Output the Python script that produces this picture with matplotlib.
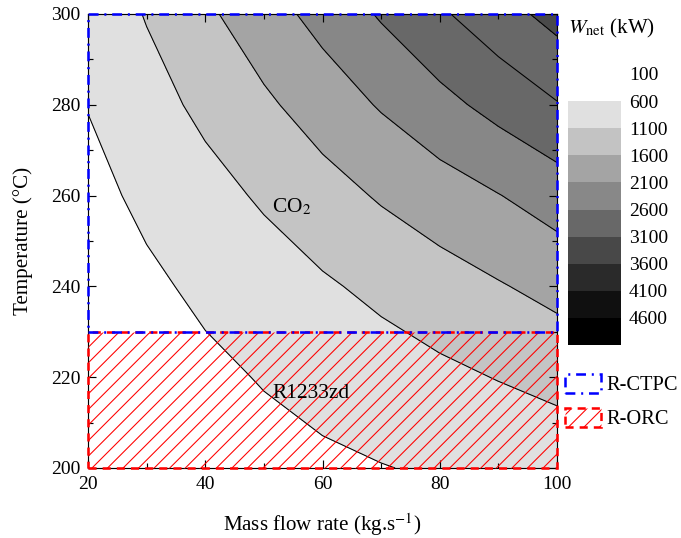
import numpy as np
import matplotlib
matplotlib.use("Agg")
import matplotlib.pyplot as plt
import matplotlib.cm as cm
from matplotlib.colors import ListedColormap, BoundaryNorm
from matplotlib.patches import Rectangle
from matplotlib.ticker import MultipleLocator

plt.rcParams.update({'font.family': 'Liberation Serif',
                     'mathtext.fontset': 'stix',
                     'font.size': 10,
                     'hatch.linewidth': 0.55})

# grid
mass_flow = [20, 30, 40, 50, 60, 70, 80, 90, 100]
temperature = [200, 220, 240, 260, 280, 300]
w_net_200 = [250, 317, 384, 451, 517, 584, 651, 718, 785]
w_net_220 = [258, 381, 504, 627, 750, 873, 996, 1118, 1245]
w_net_240 = [342, 516, 690, 864, 1037, 1213, 1389, 1563, 1750]
w_net_260 = [465, 698, 931, 1163, 1407, 1650, 1867, 2084, 2330]
w_net_280 = [615, 913, 1214, 1515, 1828, 2143, 2452, 2761, 3071]
w_net_300 = [750, 1130, 1510, 1890, 2265, 2650, 3030, 3400, 3770]

fill_levels = [100, 600, 1100, 1600, 2100, 2600, 3100, 3600, 5100]
fill_colors = ['white', '#e0e0e0', '#c4c4c4', '#a4a4a4', '#878787',
               '#686868', '#686868', '#4a4a4a']
line_levels = [600, 1100, 1600, 2100, 2600, 3100, 3600]

legend_levels = [100, 600, 1100, 1600, 2100, 2600, 3100, 3600, 4100, 4600, 5100]
legend_colors = ['white', '#e0e0e0', '#c3c3c3', '#a4a4a4', '#888888',
                 '#686868', '#484848', '#2a2a2a', '#101010', '#000000']

mass_range = (20, 100)
ctpc_temp = (230, 300)
orc_temp = (200, 230)

W = np.array([w_net_200, w_net_220, w_net_240, w_net_260, w_net_280, w_net_300])

fig = plt.figure(figsize=(681/140, 538/140), dpi=140)
ax = fig.add_axes([88/681, 1-468/538, 469/681, 454/538])

ax.contourf(mass_flow, temperature, W, levels=fill_levels, colors=fill_colors, zorder=1)
ax.contour(mass_flow, temperature, W, levels=line_levels, colors='k', linewidths=0.55, zorder=2)

ctpc = Rectangle((mass_range[0], ctpc_temp[0]), mass_range[1]-mass_range[0], ctpc_temp[1]-ctpc_temp[0],
                 fill=False, edgecolor='blue', lw=1.3, ls=(0, (3.9, 2.3, 0.8, 2.3)),
                 clip_on=False, zorder=6, label='R-CTPC')
orc = Rectangle((mass_range[0], orc_temp[0]), mass_range[1]-mass_range[0], orc_temp[1]-orc_temp[0],
                fill=False, edgecolor='red', hatch='///', lw=1.3, ls=(0, (3.2, 2.4)),
                clip_on=False, zorder=5, label='R-ORC')
ax.add_patch(orc)
ax.add_patch(ctpc)

ax.text(51.4, 257.5, r'CO$_2$', fontsize=11, va='center', ha='left', zorder=7)
ax.text(51.4, 216.5, 'R1233zd', fontsize=11, va='center', ha='left', zorder=7)

ax.set_xlim(20, 100)
ax.set_ylim(200, 300)
ax.xaxis.set_major_locator(MultipleLocator(20))
ax.xaxis.set_minor_locator(MultipleLocator(10))
ax.yaxis.set_major_locator(MultipleLocator(20))
ax.yaxis.set_minor_locator(MultipleLocator(10))
ax.tick_params(which='both', direction='in', top=True, right=True, width=0.6, labelsize=10)
ax.tick_params(which='major', length=4, pad=4)
ax.tick_params(which='minor', length=2.5)
for s in ax.spines.values():
    s.set_linewidth(0.6)

ax.set_xlabel(r'Mass flow rate (kg.s$^{-1}$)', fontsize=10.8)
ax.set_ylabel('Temperature (°C)', fontsize=10.8)
ax.xaxis.set_label_coords(0.5, -0.095)
ax.yaxis.set_label_coords(-0.117, 0.5)

# legend bar on the right
cax = fig.add_axes([568/681, 1-345/538, 53/681, 271/538])
cmap = ListedColormap(legend_colors)
norm = BoundaryNorm(legend_levels, cmap.N)
cb = fig.colorbar(cm.ScalarMappable(norm=norm, cmap=cmap), cax=cax, ticks=legend_levels[:-1])
cb.outline.set_visible(False)
cax.invert_yaxis()
cax.minorticks_off()
cax.tick_params(which='both', length=0, pad=4, labelsize=10)
fig.text(568/681, 1-28/538, r'$W_{\mathrm{net}}$ (kW)', fontsize=10.8, va='center', ha='left')

fig.legend(handles=[ctpc, orc], loc='upper left', bbox_to_anchor=(565/681, 1-374/538),
           frameon=False, fontsize=10.5, handlelength=1.75, handleheight=1.05,
           handletextpad=0.3, labelspacing=0.6, borderpad=0, borderaxespad=0)

fig.savefig('out.png', dpi=140)
